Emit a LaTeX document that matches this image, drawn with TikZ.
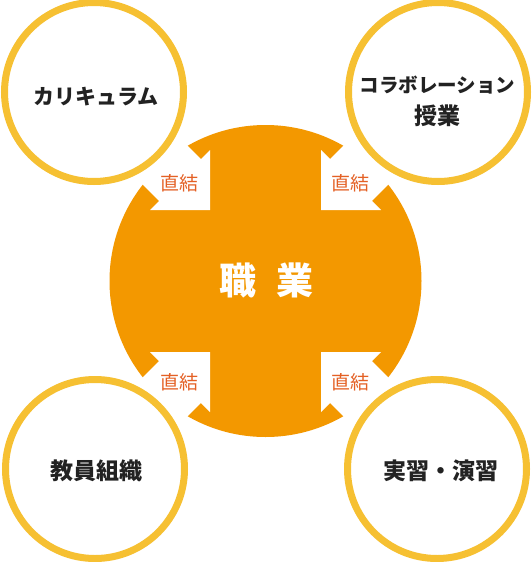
\documentclass[tikz,border=0pt]{standalone}
\usepackage{fontspec}
\setmainfont{Noto Sans CJK JP}
\definecolor{orangefill}{RGB}{243,152,0}
\definecolor{ringcol}{RGB}{246,192,50}
\definecolor{linkcol}{RGB}{228,96,36}
\definecolor{textcol}{RGB}{34,34,34}
\tikzset{
  outer/.style={circle, fill=white, draw=ringcol, line width=7pt, minimum size=179pt, inner sep=0pt},
  kanatext/.style={font=\fontsize{21pt}{24pt}\selectfont\bfseries, text=textcol, inner sep=0pt},
  kanjitext/.style={font=\fontsize{23pt}{26pt}\selectfont\bfseries, text=textcol, inner sep=0pt},
  linklabel/.style={font=\fontsize{19pt}{21pt}\selectfont, text=linkcol, inner sep=0pt},
  centerlabel/.style={font=\fontsize{37pt}{40pt}\selectfont\bfseries, text=white, inner sep=0pt},
  cutarrow/.style={fill=white}
}
\begin{document}
\begin{tikzpicture}[x=1pt,y=-1pt]
\useasboundingbox (0,0) rectangle (532,562);
\fill[white] (0,0) rectangle (532,562);
\node[circle, fill=orangefill, minimum size=312pt, inner sep=0pt] (core) at (265.5,281) {};
\foreach \sx/\sy in {1/1,-1/1,1/-1,-1/-1}{
  \begin{scope}[shift={(core.center)}, xscale=\sx, yscale=\sy]
    \fill[cutarrow] (-55.5,-71) -- (-55.5,-131) -- (-64.6,-121.9) -- (-144.6,-201.9)
      -- (-186.4,-160.1) -- (-106.4,-80.1) -- (-115.5,-71) -- cycle;
  \end{scope}
}
\node[centerlabel] (shokugyo) at (266.5,280) {職\hspace{21pt}業};
\node[linklabel] (l1) at (179,183) {直結};
\node[linklabel] (l2) at (350,183) {直結};
\node[linklabel] (l3) at (179,382) {直結};
\node[linklabel] (l4) at (350,382) {直結};
\node[outer] (cur) at (94,92) {};
\node[outer] (col) at (438,92) {};
\node[outer] (fac) at (95,469) {};
\node[outer] (pra) at (437,469) {};
\node[kanatext] (curt) at (96,97) {カリキュラム};
\node[kanatext, font=\fontsize{19.5pt}{24pt}\selectfont\bfseries] (colt1) at (437.5,85) {コラボレーション};
\node[kanjitext] (colt2) at (437.5,116) {授業};
\node[kanjitext] (fact) at (96,471) {教員組織};
\node[kanjitext] (prat) at (441,471) {実習・演習};
\end{tikzpicture}
\end{document}
